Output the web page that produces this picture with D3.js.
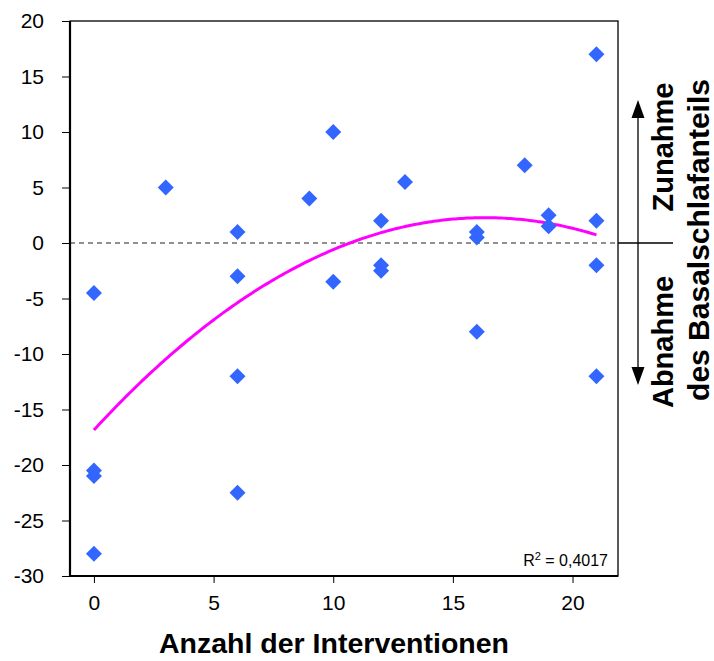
<!DOCTYPE html>
<html>
<head>
<meta charset="utf-8">
<script src="https://cdn.jsdelivr.net/npm/d3@7/dist/d3.min.js"></script>
<style>
  html, body { margin: 0; padding: 0; background: #fff; }
  svg { display: block; font-family: "Liberation Sans", Arial, sans-serif; }
</style>
</head>
<body>
<div id="chart"></div>
<script>
// Anzahl der Interventionen vs. Änderung des Basalschlafanteils
const interventions = [0, 0, 0, 0, 3, 6, 6, 6, 6, 9, 10, 10, 12, 12, 12, 13, 16, 16, 16, 18, 19, 19, 21, 21, 21, 21];
const change        = [-4.5, -20.5, -21, -28, 5, 1, -3, -12, -22.5, 4, 10, -3.5, 2, -2, -2.5, 5.5, 1, 0.5, -8, 7, 2.5, 1.5, 17, 2, -2, -12];

const xTicks = [0, 5, 10, 15, 20];
const yTicks = [20, 15, 10, 5, 0, -5, -10, -15, -20, -25, -30];

const xTitle = "Anzahl der Interventionen";
const upLabel = "Zunahme";
const downLabel = "Abnahme";
const sideLabel = "des Basalschlafanteils";
const r2Label = "0,4017";

const width = 714, height = 661;
const margin = { top: 21, right: 96, bottom: 85, left: 70 };

const svg = d3.select("#chart").append("svg")
    .attr("width", width)
    .attr("height", height);

const x = d3.scaleLinear()
    .domain([-1, 21.9])
    .range([margin.left, width - margin.right]);

const y = d3.scaleLinear()
    .domain([-30, 20])
    .range([height - margin.bottom, margin.top]);

const points = interventions.map((v, i) => ({ x: v, y: change[i] }));

// quadratic least-squares trend (like the spreadsheet's polynomial trendline)
function fitQuadratic(pts) {
    const s = [0, 0, 0, 0, 0], t = [0, 0, 0];
    pts.forEach(p => {
        for (let k = 0; k <= 4; k++) s[k] += Math.pow(p.x, k);
        for (let k = 0; k <= 2; k++) t[k] += Math.pow(p.x, k) * p.y;
    });
    const m = [
        [s[0], s[1], s[2], t[0]],
        [s[1], s[2], s[3], t[1]],
        [s[2], s[3], s[4], t[2]]
    ];
    for (let i = 0; i < 3; i++) {
        for (let j = i + 1; j < 3; j++) {
            const f = m[j][i] / m[i][i];
            for (let k = i; k < 4; k++) m[j][k] -= f * m[i][k];
        }
    }
    const c = [0, 0, 0];
    for (let i = 2; i >= 0; i--) {
        let v = m[i][3];
        for (let k = i + 1; k < 3; k++) v -= m[i][k] * c[k];
        c[i] = v / m[i][i];
    }
    return c; // c0 + c1 x + c2 x^2
}
const coef = fitQuadratic(points);
const xExtent = d3.extent(interventions);
const trend = d3.range(xExtent[0], xExtent[1] + 0.001, 0.1)
    .map(v => ({ x: v, y: coef[0] + coef[1] * v + coef[2] * v * v }));

const plotL = x.range()[0], plotR = x.range()[1];
const plotT = y.range()[1], plotB = y.range()[0];

// frame
svg.append("rect")
    .attr("x", plotL).attr("y", plotT)
    .attr("width", plotR - plotL).attr("height", plotB - plotT)
    .attr("fill", "none").attr("stroke", "#000").attr("stroke-width", 1.3);

// zero line (dashed)
svg.append("line")
    .attr("x1", plotL).attr("x2", plotR)
    .attr("y1", y(0)).attr("y2", y(0))
    .attr("stroke", "#222").attr("stroke-width", 1)
    .attr("stroke-dasharray", "5,4");

// axes (plain hyphen for negatives, as in the original)
const plainFmt = d => String(d);
const yAxis = svg.append("g")
    .attr("transform", `translate(${plotL},0)`)
    .call(d3.axisLeft(y).tickValues(yTicks).tickSize(8).tickPadding(18).tickFormat(plainFmt));
const xAxis = svg.append("g")
    .attr("transform", `translate(0,${plotB})`)
    .call(d3.axisBottom(x).tickValues(xTicks).tickSize(7).tickPadding(12).tickFormat(plainFmt));

[yAxis, xAxis].forEach(g => {
    g.select(".domain").attr("stroke", "#000").attr("stroke-width", 2.2);
    g.selectAll(".tick line").attr("stroke", "#000").attr("stroke-width", 1);
    g.selectAll(".tick text")
        .attr("fill", "#000")
        .style("font-family", "'Liberation Sans', Arial, sans-serif")
        .style("font-size", "21px");
});
xAxis.select(".domain").attr("d", `M${plotL},0H${plotR}`);
yAxis.select(".domain").attr("d", `M0,${plotT}V${plotB}`);

// trend curve
svg.append("path")
    .datum(trend)
    .attr("fill", "none")
    .attr("stroke", "#ff00ff")
    .attr("stroke-width", 3)
    .attr("d", d3.line().x(d => x(d.x)).y(d => y(d.y)));

// markers
const diamond = d3.symbol().type(d3.symbolSquare).size(128);
svg.append("g").selectAll("path")
    .data(points)
    .join("path")
    .attr("d", diamond)
    .attr("transform", d => `translate(${x(d.x)},${y(d.y)}) rotate(45)`)
    .attr("fill", "#3366ff");

// R² label
const r2 = svg.append("text")
    .attr("x", plotR - 10).attr("y", plotB - 10)
    .attr("text-anchor", "end")
    .style("font-size", "16px")
    .attr("fill", "#000");
r2.append("tspan").text("R");
r2.append("tspan").attr("dy", -6).style("font-size", "11px").text("2");
r2.append("tspan").attr("dy", 6).text(" = " + r2Label);

// x title
svg.append("text")
    .attr("x", (plotL + plotR) / 2 - 10).attr("y", 653)
    .attr("text-anchor", "middle")
    .style("font-size", "28.5px").style("font-weight", "bold")
    .text(xTitle);

// right side annotation: zero line extension, arrows, labels
const y0 = y(0);
const arrowX = 638;
svg.append("line")
    .attr("x1", plotR).attr("x2", 673)
    .attr("y1", y0).attr("y2", y0)
    .attr("stroke", "#000").attr("stroke-width", 1.3);

svg.append("line")
    .attr("x1", arrowX).attr("x2", arrowX)
    .attr("y1", y0).attr("y2", 112)
    .attr("stroke", "#000").attr("stroke-width", 1.3);
svg.append("path")
    .attr("d", `M${arrowX},100L${arrowX + 6.5},118L${arrowX - 6.5},118Z`)
    .attr("fill", "#000");

svg.append("line")
    .attr("x1", arrowX).attr("x2", arrowX)
    .attr("y1", y0).attr("y2", 373)
    .attr("stroke", "#000").attr("stroke-width", 1.3);
svg.append("path")
    .attr("d", `M${arrowX},385L${arrowX + 6.5},367L${arrowX - 6.5},367Z`)
    .attr("fill", "#000");

function vLabel(text, cx, cy, size) {
    svg.append("text")
        .attr("transform", `translate(${cx},${cy}) rotate(-90)`)
        .attr("text-anchor", "middle")
        .style("font-size", size + "px").style("font-weight", "bold")
        .attr("fill", "#000")
        .text(text);
}
vLabel(upLabel, 673, 147, 29);
vLabel(downLabel, 673, 342, 29);
vLabel(sideLabel, 709, 240, 30);
</script>
</body>
</html>
